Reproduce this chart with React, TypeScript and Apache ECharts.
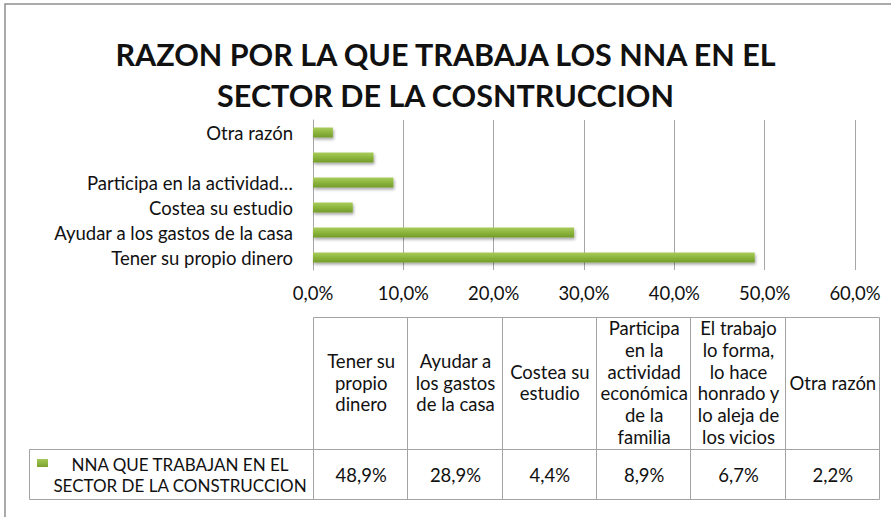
import React, { useEffect, useRef } from "react";
import * as echarts from "echarts";

const titleLines = ["RAZON POR LA QUE TRABAJA LOS NNA EN EL", "SECTOR DE LA COSNTRUCCION"];
const categories = [
  "Tener su propio dinero",
  "Ayudar a los gastos de la casa",
  "Costea su estudio",
  "Participa en la actividad económica de la familia",
  "El trabajo lo forma, lo hace honrado y lo aleja de los vicios",
  "Otra razón",
];
const axisLabels = [
  "Tener su propio dinero",
  "Ayudar a los gastos de la casa",
  "Costea su estudio",
  "Participa en la actividad…",
  "",
  "Otra razón",
];
const headerLabels = [
  "Tener su\npropio\ndinero",
  "Ayudar a\nlos gastos\nde la casa",
  "Costea su\nestudio",
  "Participa\nen la\nactividad\neconómica\nde la\nfamilia",
  "El trabajo\nlo forma,\nlo hace\nhonrado y\nlo aleja de\nlos vicios",
  "Otra razón",
];
const values = [48.9, 28.9, 4.4, 8.9, 6.7, 2.2];
const seriesName = ["NNA QUE TRABAJAN EN EL", "SECTOR DE LA CONSTRUCCION"];
const xMin = 0;
const xMax = 60;
const xInterval = 10;

const FONT = "Lato";
const FS = 18.5;
const fmt = (v: number) => v.toFixed(1).replace(".", ",") + "%";

export default function App() {
  const ref = useRef<HTMLDivElement>(null);
  useEffect(() => {
    document.body.style.margin = "0";
    const chart = echarts.init(ref.current!, null, { renderer: "svg" });

    const tLeft = 313;
    const tRight = 879;
    const colW = (tRight - tLeft) / categories.length;
    const hTop = 317.5;
    const rSep = 449.5;
    const rBot = 499.5;
    const legLeft = 29.5;
    const border = "#a3a3a3";

    const graphics: any[] = [];
    graphics.push({
      type: "rect",
      shape: { x: 5, y: 4, width: 950, height: 600 },
      style: { fill: "none", stroke: "#8f8f8f", lineWidth: 1.5 },
      silent: true,
    });
    const L = (x1: number, y1: number, x2: number, y2: number) =>
      graphics.push({
        type: "line",
        shape: { x1, y1, x2, y2 },
        style: { stroke: border, lineWidth: 1 },
        silent: true,
      });
    L(tLeft + 0.5, hTop, tRight + 0.5, hTop);
    L(legLeft, rSep, tRight + 0.5, rSep);
    L(legLeft, rBot, tRight + 0.5, rBot);
    L(legLeft, rSep, legLeft, rBot);
    for (let i = 0; i <= categories.length; i++) {
      const x = Math.round(tLeft + i * colW) + 0.5;
      L(x, hTop, x, rBot);
    }
    headerLabels.forEach((h, i) => {
      graphics.push({
        type: "text",
        x: tLeft + (i + 0.5) * colW + 1,
        y: (hTop + rSep) / 2 - 1,
        style: {
          text: h,
          font: `${FS}px ${FONT}`,
          fill: "#111",
          align: "center",
          verticalAlign: "middle",
          lineHeight: 21.7,
        },
        silent: true,
      });
    });
    values.forEach((v, i) => {
      graphics.push({
        type: "text",
        x: tLeft + (i + 0.5) * colW + 1,
        y: (rSep + rBot) / 2,
        style: {
          text: fmt(v),
          font: `${FS}px ${FONT}`,
          fill: "#111",
          align: "center",
          verticalAlign: "middle",
        },
        silent: true,
      });
    });
    graphics.push({
      type: "rect",
      shape: { x: 37, y: 459, width: 11, height: 8 },
      style: {
        fill: new echarts.graphic.LinearGradient(0, 0, 0, 1, [
          { offset: 0, color: "#a5c957" },
          { offset: 1, color: "#7aa02e" },
        ]),
      },
      silent: true,
    });
    graphics.push({
      type: "text",
      x: 180,
      y: (rSep + rBot) / 2,
      style: {
        text: seriesName.join("\n"),
        font: `17px ${FONT}`,
        fill: "#111",
        align: "center",
        verticalAlign: "middle",
        lineHeight: 21,
      },
      silent: true,
    });

    chart.setOption({
      animation: false,
      title: {
        text: titleLines.join("\n"),
        left: "center",
        top: 28,
        textStyle: {
          fontFamily: FONT,
          fontWeight: "bold",
          fontSize: 30.5,
          lineHeight: 41,
          color: "#111",
        },
      },
      grid: { left: 313, right: 36, top: 120, bottom: 247, containLabel: false },
      xAxis: {
        type: "value",
        min: xMin,
        max: xMax,
        interval: xInterval,
        axisLine: { show: false },
        axisTick: { show: false },
        splitLine: { show: true, lineStyle: { color: "#a6a6a6", width: 1 } },
        axisLabel: {
          formatter: (v: number) => fmt(v),
          fontFamily: FONT,
          fontSize: FS,
          color: "#111",
          margin: 13,
        },
      },
      yAxis: {
        type: "category",
        data: categories,
        axisLine: { show: true, lineStyle: { color: "#a6a6a6" } },
        axisTick: { show: false },
        axisLabel: {
          formatter: (_: string, idx: number) => axisLabels[idx],
          fontFamily: FONT,
          fontSize: FS,
          color: "#111",
          margin: 20,
        },
      },
      series: [
        {
          type: "bar",
          name: seriesName.join(" "),
          data: values,
          barWidth: 10,
          itemStyle: {
            color: new echarts.graphic.LinearGradient(0, 0, 0, 1, [
              { offset: 0, color: "#a9cc5c" },
              { offset: 0.5, color: "#8cb53c" },
              { offset: 1, color: "#739b2a" },
            ]),
            shadowBlur: 3,
            shadowOffsetX: 1,
            shadowOffsetY: 2,
            shadowColor: "rgba(0,0,0,0.35)",
          },
        },
      ],
      graphic: graphics,
    });
    return () => chart.dispose();
  }, []);
  return <div ref={ref} style={{ width: 891, height: 517 }} />;
}
